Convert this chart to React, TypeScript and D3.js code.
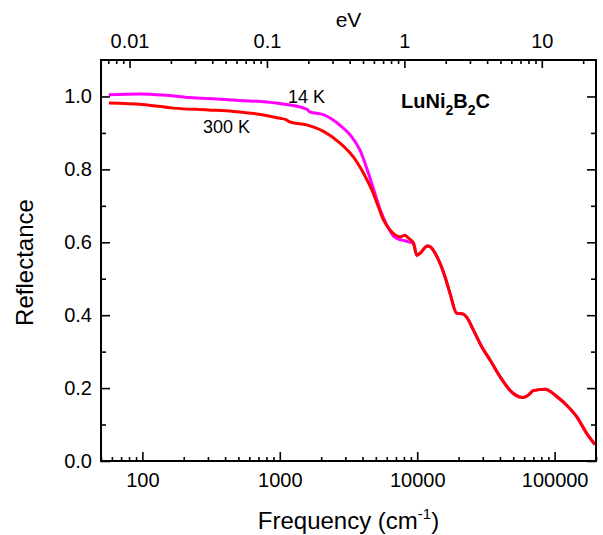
import { useEffect, useRef } from 'react';
import * as d3 from 'd3';

// Frequency in cm^-1, reflectance
const freq300K = [57, 100, 168, 300, 459, 680, 1005, 1100, 1190, 1570, 2065, 2743, 3430, 4055, 4670, 5210, 5670, 6340, 7500, 8140, 8600];
const refl300K = [0.982, 0.978, 0.968, 0.963, 0.959, 0.952, 0.940, 0.937, 0.930, 0.922, 0.905, 0.872, 0.834, 0.790, 0.744, 0.698, 0.662, 0.634, 0.615, 0.619, 0.612];

const freq14K = [57, 96, 150, 222, 350, 513, 800, 1122, 1570, 1650, 2075, 2743, 3340, 3840, 4410, 4930, 5370, 6050, 6750, 7500, 8160, 8630];
const refl14K = [1.005, 1.007, 1.003, 0.997, 0.993, 0.989, 0.985, 0.978, 0.965, 0.958, 0.950, 0.921, 0.889, 0.852, 0.790, 0.733, 0.690, 0.645, 0.616, 0.607, 0.604, 0.601];

// above ~9000 cm^-1 both temperatures lie on top of each other
const freqTail = [9380, 9940, 10500, 11860, 12500, 13860, 15950, 17350, 19400, 21300, 22950, 25660, 29540, 33900, 40100, 50100, 58600, 65000, 70000, 85200, 103600, 122400, 145000, 171000, 196800];
const reflTail = [0.598, 0.564, 0.570, 0.590, 0.587, 0.562, 0.505, 0.459, 0.405, 0.404, 0.394, 0.359, 0.313, 0.277, 0.231, 0.185, 0.174, 0.182, 0.193, 0.197, 0.177, 0.153, 0.121, 0.076, 0.045];

const freqTicks = [100, 1000, 10000, 100000];
const eVTicks = [0.01, 0.1, 1, 10];
const reflTicks = [0, 0.2, 0.4, 0.6, 0.8, 1.0];
const reflMinorTicks = [0.1, 0.3, 0.5, 0.7, 0.9];

const CM_PER_EV = 8065.54;
const FONT = 'Arial, "Liberation Sans", sans-serif';

function ReflectanceChart() {
  const ref = useRef<SVGSVGElement>(null);

  useEffect(() => {
    const svg = d3.select(ref.current);
    svg.selectAll('*').remove();

    const left = 101, right = 596, top = 60, bottom = 461;

    const x = d3.scaleLog().domain([50, 200000]).range([left, right]);
    const xEV = d3.scaleLog().domain([50 / CM_PER_EV, 200000 / CM_PER_EV]).range([left, right]);
    const y = d3.scaleLinear().domain([0, 1.1]).range([bottom, top]);

    const styleAxis = (g: any) => {
      g.select('.domain').remove();
      g.selectAll('line').attr('stroke', '#000').attr('stroke-width', 1.6);
      g.selectAll('text').attr('fill', '#000').style('font-family', FONT).style('font-size', '20px');
    };

    // bottom axis
    const xMinor = x.ticks().filter(t => !freqTicks.includes(t));
    svg.append('g').attr('transform', `translate(0,${bottom})`)
      .call(d3.axisBottom(x).tickValues(xMinor).tickSize(-4).tickFormat(() => ''))
      .call(styleAxis);
    svg.append('g').attr('transform', `translate(0,${bottom})`)
      .call(d3.axisBottom(x).tickValues(freqTicks).tickSize(-9).tickPadding(12).tickFormat(d3.format('d')))
      .call(styleAxis);

    // top axis (eV)
    const eVMinor = xEV.ticks().filter(t => !eVTicks.some(m => Math.abs(m - t) < 1e-9));
    svg.append('g').attr('transform', `translate(0,${top})`)
      .call(d3.axisTop(xEV).tickValues(eVMinor).tickSize(-4).tickFormat(() => ''))
      .call(styleAxis);
    svg.append('g').attr('transform', `translate(0,${top})`)
      .call(d3.axisTop(xEV).tickValues(eVTicks).tickSize(-8).tickPadding(12).tickFormat(d => String(d)))
      .call(styleAxis);

    // left / right axes
    svg.append('g').attr('transform', `translate(${left},0)`)
      .call(d3.axisLeft(y).tickValues(reflTicks).tickSize(-9).tickPadding(9).tickFormat(d3.format('.1f')))
      .call(styleAxis);
    svg.append('g').attr('transform', `translate(${left},0)`)
      .call(d3.axisLeft(y).tickValues(reflMinorTicks).tickSize(-5).tickFormat(() => ''))
      .call(styleAxis);
    svg.append('g').attr('transform', `translate(${right},0)`)
      .call(d3.axisRight(y).tickValues(reflTicks).tickSize(-9).tickFormat(() => ''))
      .call(styleAxis);
    svg.append('g').attr('transform', `translate(${right},0)`)
      .call(d3.axisRight(y).tickValues(reflMinorTicks).tickSize(-5).tickFormat(() => ''))
      .call(styleAxis);

    // curves
    const line = d3.line<[number, number]>()
      .x(d => x(d[0]))
      .y(d => y(d[1]))
      .curve(d3.curveMonotoneX);

    const series = [
      { f: [...freq14K, ...freqTail], r: [...refl14K, ...reflTail], color: '#ff00ff' },
      { f: [...freq300K, ...freqTail], r: [...refl300K, ...reflTail], color: '#ff0000' },
    ];
    series.forEach(s => {
      svg.append('path')
        .datum(s.f.map((f, i) => [f, s.r[i]] as [number, number]))
        .attr('d', line)
        .attr('fill', 'none')
        .attr('stroke', s.color)
        .attr('stroke-width', 3)
        .attr('stroke-linejoin', 'round');
    });

    // frame
    svg.append('rect')
      .attr('x', left).attr('y', top)
      .attr('width', right - left).attr('height', bottom - top)
      .attr('fill', 'none').attr('stroke', '#000').attr('stroke-width', 2);

    // annotations
    const txt = (xx: number, yy: number, s: string, size: number) =>
      svg.append('text').attr('x', xx).attr('y', yy)
        .style('font-family', FONT).style('font-size', `${size}px`).attr('fill', '#000').text(s);

    txt(288, 103, '14 K', 18);
    txt(203, 133, '300 K', 18);

    const formula = svg.append('text').attr('x', 401).attr('y', 108)
      .style('font-family', FONT).style('font-size', '20px').style('font-weight', 'bold');
    formula.append('tspan').text('LuNi');
    formula.append('tspan').attr('dy', 7).style('font-size', '14px').text('2');
    formula.append('tspan').attr('dy', -7).text('B');
    formula.append('tspan').attr('dy', 7).style('font-size', '14px').text('2');
    formula.append('tspan').attr('dy', -7).text('C');

    svg.append('text').attr('x', (left + right) / 2).attr('y', 27)
      .attr('text-anchor', 'middle')
      .style('font-family', FONT).style('font-size', '21px').text('eV');

    const xt = svg.append('text').attr('x', (left + right) / 2).attr('y', 529)
      .attr('text-anchor', 'middle')
      .style('font-family', FONT).style('font-size', '24px');
    xt.append('tspan').text('Frequency (cm');
    xt.append('tspan').attr('dy', -10).style('font-size', '15px').text('-1');
    xt.append('tspan').attr('dy', 10).text(')');

    svg.append('text')
      .attr('transform', `translate(33,${(top + bottom) / 2 + 2}) rotate(-90)`)
      .attr('text-anchor', 'middle')
      .style('font-family', FONT).style('font-size', '24px').text('Reflectance');
  }, []);

  return <svg ref={ref} width={603} height={535} style={{ position: 'absolute', left: 0, top: 0, background: '#fff' }} />;
}

export default function App() {
  return <ReflectanceChart />;
}
